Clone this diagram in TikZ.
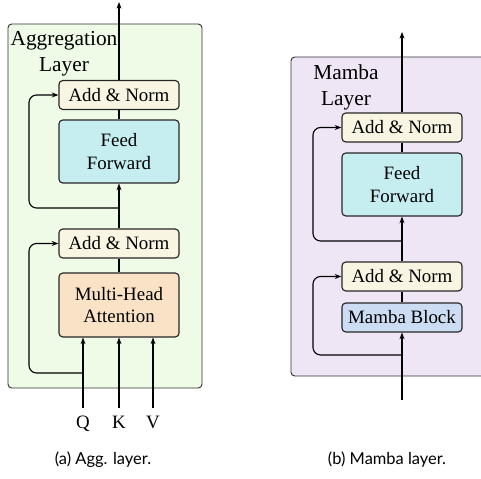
\documentclass[tikz,border=0pt]{standalone}
\usepackage{fontspec}
\setmainfont{Liberation Serif}
\newfontfamily\capfont{Lato}
\usetikzlibrary{arrows.meta,positioning}

\definecolor{aggbg}{RGB}{239,250,231}
\definecolor{mambabg}{RGB}{239,230,245}
\definecolor{normfill}{RGB}{248,246,226}
\definecolor{fffill}{RGB}{198,238,240}
\definecolor{mhafill}{RGB}{249,226,197}
\definecolor{mbfill}{RGB}{204,220,242}

\begin{document}
\begin{tikzpicture}[x=0.529pt, y=0.529pt,
    panel/.style={draw=black!80, line width=0.5pt, rounded corners=2pt},
    blk/.style={draw=black!85, line width=0.6pt, rounded corners=2pt, align=center,
        minimum width=63.5pt, inner sep=0pt, font=\fontsize{10}{12}\selectfont},
    addnorm/.style={blk, fill=normfill, minimum height=15.3pt},
    ffbox/.style={blk, fill=fffill, minimum height=33.3pt},
    mhabox/.style={blk, fill=mhafill, minimum height=33.8pt},
    mbbox/.style={blk, fill=mbfill, minimum height=15.3pt},
    title/.style={align=center, inner sep=0pt, font=\fontsize{11.3}{13.8}\selectfont},
    inlabel/.style={anchor=north, inner sep=4pt, font=\fontsize{10}{12}\selectfont},
    caption/.style={font=\capfont\fontsize{8.7}{10}\selectfont},
    ln/.style={line width=0.6pt},
    arr/.style={ln, -{Stealth[length=3.5pt,width=2.6pt]}},
    skip/.style={arr, rounded corners=4pt}]
    \useasboundingbox (0,0) rectangle (481,478);

    % Panels
    \draw[panel, fill=aggbg] (8,90) rectangle (202,454);
    \draw[panel, fill=mambabg] (291,102) rectangle (492,421);

    % Aggregation layer
    \node[title] (tagg) at (64,424.5) {Aggregation\\Layer};
    \node[addnorm] (an2a) at (119,383) {Add \& Norm};
    \node[ffbox] (ffa) at (119,326.5) {Feed\\Forward};
    \node[addnorm] (an1a) at (119,234.5) {Add \& Norm};
    \node[mhabox] (mha) at (119,173) {Multi-Head\\Attention};

    \node[inlabel] (q) at (83,70) {Q};
    \node[inlabel] (k) at (119,70) {K};
    \node[inlabel] (v) at (153,70) {V};

    \coordinate (outa) at (119,476);
    \coordinate (sa1) at (83,105);
    \coordinate (sa2) at (119,270);
    \coordinate (lpa) at (29,0);

    \draw[arr] (q.north) -- (q.north |- mha.south);
    \draw[arr] (k.north) -- (k.north |- mha.south);
    \draw[arr] (v.north) -- (v.north |- mha.south);
    \draw[ln] (mha) -- (an1a);
    \draw[arr] (an1a) -- (ffa);
    \draw[ln] (ffa) -- (an2a);
    \draw[arr] (an2a) -- (outa);

    % Residual paths
    \draw[skip] (sa1) -| (lpa |- an1a.west) -- (an1a.west);
    \draw[skip] (sa2) -| (lpa |- an2a.west) -- (an2a.west);

    % Mamba layer
    \node[title] (tmb) at (346,390.5) {Mamba\\Layer};
    \node[addnorm] (an2b) at (402,350.5) {Add \& Norm};
    \node[ffbox] (ffb) at (402,293.5) {Feed\\Forward};
    \node[addnorm] (an1b) at (402,201.5) {Add \& Norm};
    \node[mbbox] (mb) at (402,160.5) {Mamba Block};

    \coordinate (inb) at (402,78);
    \coordinate (outb) at (402,446);
    \coordinate (sb1) at (402,123);
    \coordinate (sb2) at (402,237);
    \coordinate (lpb) at (313,0);

    \draw[arr] (inb) -- (mb);
    \draw[ln] (mb) -- (an1b);
    \draw[arr] (an1b) -- (ffb);
    \draw[ln] (ffb) -- (an2b);
    \draw[arr] (an2b) -- (outb);

    \draw[skip] (sb1) -| (lpb |- an1b.west) -- (an1b.west);
    \draw[skip] (sb2) -| (lpb |- an2b.west) -- (an2b.west);

    % Captions
    \node[caption] (capa) at (103,18) {(a) Agg. layer.};
    \node[caption] (capb) at (387,18) {(b) Mamba layer.};
\end{tikzpicture}
\end{document}
